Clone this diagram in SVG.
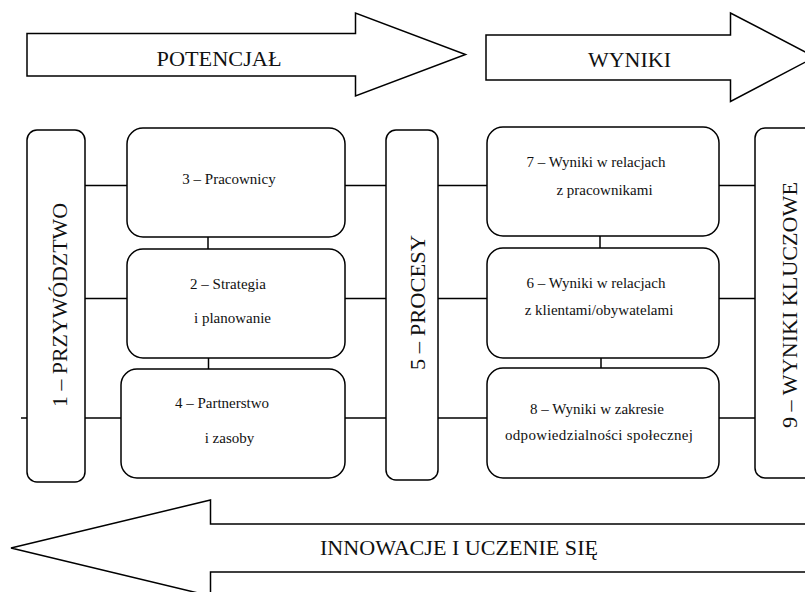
<svg xmlns="http://www.w3.org/2000/svg" width="805" height="592" viewBox="0 0 805 592">
<style>
.shape{fill:#fff;stroke:#000;stroke-width:1.5}
.conn{stroke:#000;stroke-width:1.5;fill:none}
.t{font-family:"Liberation Serif","Times New Roman",serif;fill:#111;text-anchor:middle}
.s{font-size:15px}
.b{font-size:22px}
</style>
<rect width="805" height="592" fill="#fff"/>
<g id="connectors" class="conn">
<line x1="21" y1="418" x2="27" y2="418"/>
<line x1="85" y1="185.5" x2="127" y2="185.5"/>
<line x1="85" y1="298.5" x2="127" y2="298.5"/>
<line x1="85" y1="418" x2="121" y2="418"/>
<line x1="345" y1="185.5" x2="386" y2="185.5"/>
<line x1="345" y1="298.5" x2="386" y2="298.5"/>
<line x1="345" y1="418" x2="386" y2="418"/>
<line x1="208" y1="237" x2="208" y2="249"/>
<line x1="208.5" y1="358" x2="208.5" y2="369"/>
<line x1="438" y1="185.5" x2="487" y2="185.5"/>
<line x1="438" y1="298.5" x2="487" y2="298.5"/>
<line x1="438" y1="418" x2="487" y2="418"/>
<line x1="719" y1="185.5" x2="755" y2="185.5"/>
<line x1="719" y1="298.5" x2="755" y2="298.5"/>
<line x1="719" y1="418" x2="755" y2="418"/>
<line x1="600" y1="236" x2="600" y2="248"/>
<line x1="601" y1="358" x2="601" y2="368"/>
</g>
<g id="arrow-potencjal">
<polygon class="shape" points="27,33.5 355.5,33.5 355.5,13 465.5,54.5 355.5,96 355.5,76 27,76"/>
<text class="t b" x="219" y="66" textLength="125" lengthAdjust="spacingAndGlyphs">POTENCJAŁ</text>
</g>
<g id="arrow-wyniki">
<polygon class="shape" points="486,35 730.5,35 730.5,13 815,57 730.5,101.5 730.5,80 486,80"/>
<text class="t b" x="629.5" y="67" textLength="83" lengthAdjust="spacingAndGlyphs">WYNIKI</text>
</g>
<g id="arrow-innowacje">
<polygon class="shape" points="820,524 210.5,524 210.5,500 11,548 210.5,596 210.5,572 820,572"/>
<text class="t" style="font-size:21px;text-anchor:start" x="320" y="555" textLength="278" lengthAdjust="spacingAndGlyphs">INNOWACJE I UCZENIE SIĘ</text>
</g>
<g id="n1">
<rect class="shape" x="27" y="130" width="58" height="352" rx="10"/>
<text class="t b" transform="translate(66.5,305) rotate(-90)" textLength="204" lengthAdjust="spacingAndGlyphs">1 – PRZYWÓDZTWO</text>
</g>
<g id="n3">
<rect class="shape" x="127" y="128" width="218" height="109" rx="16"/>
<text class="t s" x="229" y="184">3 – Pracownicy</text>
</g>
<g id="n2">
<rect class="shape" x="127" y="249" width="218" height="109" rx="16"/>
<text class="t s" x="228" y="289">2 – Strategia</text>
<text class="t s" x="232.5" y="323">i planowanie</text>
</g>
<g id="n4">
<rect class="shape" x="121" y="369" width="224" height="109" rx="16"/>
<text class="t s" x="222" y="408">4 – Partnerstwo</text>
<text class="t s" x="229.5" y="443">i zasoby</text>
</g>
<g id="n5">
<rect class="shape" x="386" y="130" width="52" height="350" rx="10"/>
<text class="t b" transform="translate(425,302.5) rotate(-90)" textLength="135" lengthAdjust="spacingAndGlyphs">5 – PROCESY</text>
</g>
<g id="n7">
<rect class="shape" x="487" y="127" width="232" height="109" rx="16"/>
<text class="t s" x="596" y="167">7 – Wyniki w relacjach</text>
<text class="t s" x="604.5" y="195">z pracownikami</text>
</g>
<g id="n6">
<rect class="shape" x="487" y="248" width="232" height="110" rx="16"/>
<text class="t s" x="596" y="288">6 – Wyniki w relacjach</text>
<text class="t s" x="599" y="315">z klientami/obywatelami</text>
</g>
<g id="n8">
<rect class="shape" x="487" y="368" width="232" height="110" rx="16"/>
<text class="t s" x="597" y="414">8 – Wyniki w zakresie</text>
<text class="t s" x="599" y="440" textLength="188" lengthAdjust="spacing">odpowiedzialności  społecznej</text>
</g>
<g id="n9">
<rect class="shape" x="755" y="128" width="70" height="350" rx="10"/>
<text class="t b" transform="translate(796.5,305) rotate(-90)" textLength="246" lengthAdjust="spacingAndGlyphs">9 – WYNIKI KLUCZOWE</text>
</g>
</svg>
